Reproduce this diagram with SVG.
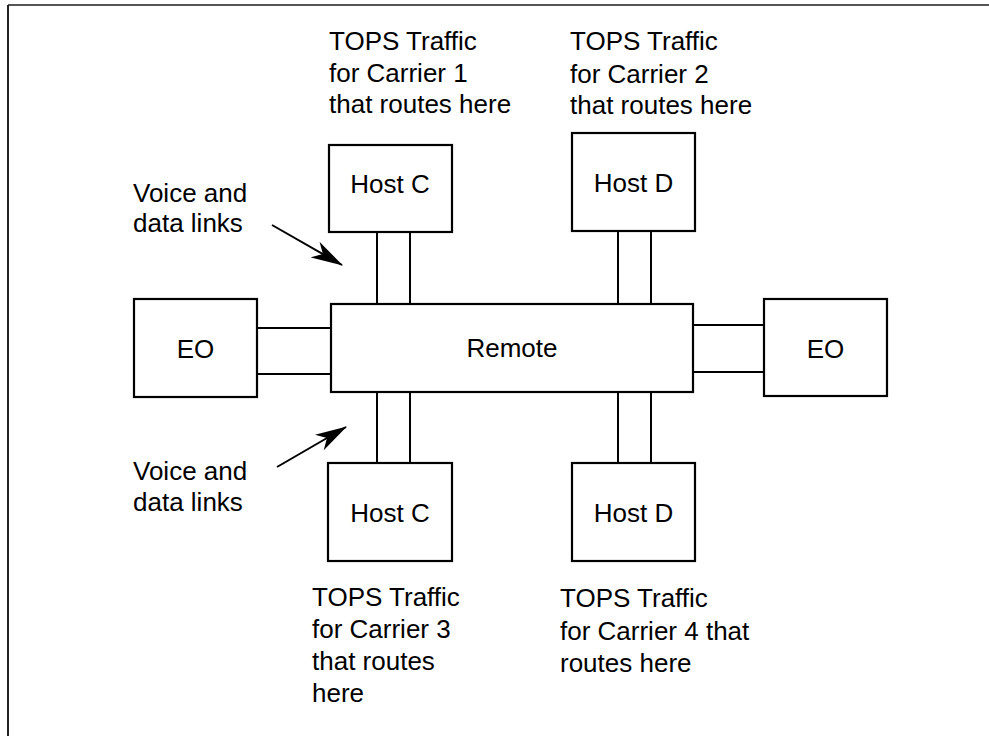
<svg xmlns="http://www.w3.org/2000/svg" width="989" height="736" viewBox="0 0 989 736">
<style>
.box{fill:#fff;stroke:#000;stroke-width:2.2}
.ln{stroke:#000;stroke-width:2;fill:none}
text{font-family:"Liberation Sans",Arial,sans-serif;font-size:26px;fill:#000}
.c{text-anchor:middle}
</style>
<defs>
<marker id="ah" markerUnits="userSpaceOnUse" markerWidth="32" markerHeight="18" viewBox="0 0 32 18" refX="31" refY="9" orient="auto">
<path d="M0,0 L32,9 L0,18 L9,9 Z" fill="#000"/>
</marker>
</defs>
<rect width="989" height="736" fill="#fff"/>
<g id="frame">
<line x1="8" y1="5" x2="989" y2="5" stroke="#555" stroke-width="2"/>
<line x1="8" y1="5" x2="8" y2="736" stroke="#222" stroke-width="2"/>
</g>
<g id="connectors">
<line class="ln" x1="377" y1="232" x2="377" y2="304"/>
<line class="ln" x1="410" y1="232" x2="410" y2="304"/>
<line class="ln" x1="618" y1="231" x2="618" y2="304"/>
<line class="ln" x1="651" y1="231" x2="651" y2="304"/>
<line class="ln" x1="377" y1="392" x2="377" y2="463"/>
<line class="ln" x1="410" y1="392" x2="410" y2="463"/>
<line class="ln" x1="618" y1="392" x2="618" y2="463"/>
<line class="ln" x1="651" y1="392" x2="651" y2="463"/>
<line class="ln" x1="257" y1="328" x2="331" y2="328"/>
<line class="ln" x1="257" y1="374" x2="331" y2="374"/>
<line class="ln" x1="693" y1="325" x2="764" y2="325"/>
<line class="ln" x1="693" y1="372" x2="764" y2="372"/>
<line class="ln" x1="272" y1="225" x2="342" y2="265" marker-end="url(#ah)"/>
<line class="ln" x1="277" y1="467" x2="346" y2="427" marker-end="url(#ah)"/>
</g>
<g id="remote">
<rect class="box" x="331" y="304" width="362" height="88"/>
<text class="c" x="512" y="357">Remote</text>
</g>
<g id="eo-left">
<rect class="box" x="134" y="299" width="123" height="98"/>
<text class="c" x="195.5" y="358">EO</text>
</g>
<g id="eo-right">
<rect class="box" x="764" y="299" width="123" height="97"/>
<text class="c" x="825.5" y="358">EO</text>
</g>
<g id="host-c-top">
<rect class="box" x="329" y="145" width="123" height="87"/>
<text class="c" x="390" y="193">Host C</text>
</g>
<g id="host-d-top">
<rect class="box" x="572" y="133" width="123" height="98"/>
<text class="c" x="633.5" y="192">Host D</text>
</g>
<g id="host-c-bottom">
<rect class="box" x="328" y="463" width="124" height="98"/>
<text class="c" x="390" y="522">Host C</text>
</g>
<g id="host-d-bottom">
<rect class="box" x="572" y="463" width="123" height="98"/>
<text class="c" x="633.5" y="522">Host D</text>
</g>
<g id="labels">
<text x="329" y="50">TOPS Traffic</text>
<text x="329" y="82">for Carrier 1</text>
<text x="329" y="113">that routes here</text>
<text x="570" y="50">TOPS Traffic</text>
<text x="570" y="83">for Carrier 2</text>
<text x="570" y="114">that routes here</text>
<text x="133" y="202">Voice and</text>
<text x="133" y="232">data links</text>
<text x="133" y="480">Voice and</text>
<text x="133" y="511">data links</text>
<text x="312" y="606">TOPS Traffic</text>
<text x="312" y="638">for Carrier 3</text>
<text x="312" y="670">that routes</text>
<text x="312" y="702">here</text>
<text x="560" y="607">TOPS Traffic</text>
<text x="560" y="640">for Carrier 4 that</text>
<text x="560" y="672">routes here</text>
</g>
</svg>
